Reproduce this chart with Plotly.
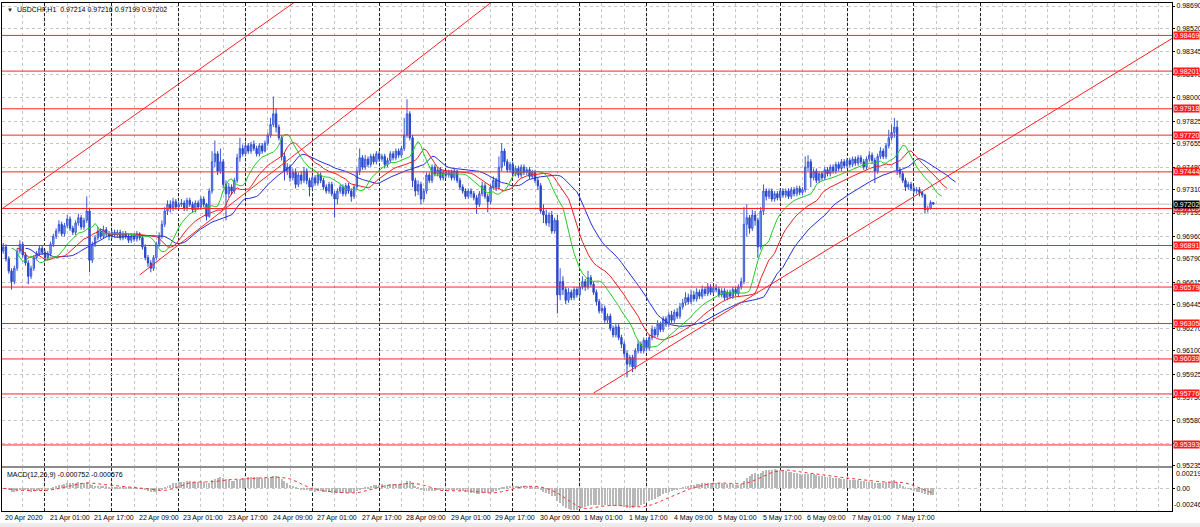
import numpy as np
import pandas as pd
import plotly.graph_objects as go

# ---------------- data (prices in points, 1 point = 0.00001) ----------------
symbol = "USDCHF"
timeframe = "H1"

opens = [
96850, 96880, 96790, 96700, 96620, 96720, 96850, 96900, 96820, 96760,
96660, 96720, 96800, 96830, 96870, 96840, 96800, 96830, 96900, 96960,
97000, 97050, 96980, 97040, 97090, 97020, 96990, 97060, 97100, 97030,
97080, 97150, 96780, 96900, 96950, 97000, 96960, 97010, 96980, 96960,
96990, 96970, 96990, 96950, 96980, 96960, 96930, 96960, 96940, 96980,
96950, 96880, 96800, 96760, 96720, 96800, 96900, 96960, 97050, 97150,
97200, 97170, 97220, 97180, 97200, 97210, 97170, 97230, 97200, 97160,
97210, 97180, 97240, 97200, 97110, 97300, 97520, 97580, 97450, 97520,
97350, 97280, 97330, 97300, 97380, 97550, 97620, 97580, 97640, 97600,
97650, 97620, 97580, 97640, 97600, 97660, 97720, 97800, 97880, 97780,
97700, 97560, 97450, 97480, 97400, 97440, 97350, 97420, 97380, 97450,
97380, 97330, 97400, 97360, 97420, 97380, 97330, 97300, 97350, 97280,
97240, 97300, 97330, 97280, 97340, 97300, 97260, 97330, 97450, 97550,
97480, 97540, 97500, 97560, 97520, 97580, 97540, 97560, 97500, 97530,
97580, 97550, 97600, 97570, 97620, 97720, 97880, 97700, 97380, 97300,
97350, 97240, 97300, 97420, 97380, 97480, 97430, 97460, 97400, 97440,
97420, 97440, 97400, 97450, 97380, 97330, 97300, 97260, 97300, 97280,
97250, 97200, 97280, 97340, 97260, 97220, 97330, 97380, 97330, 97480,
97600, 97520, 97460, 97500, 97430, 97470, 97420, 97480, 97440, 97460,
97410, 97440, 97380, 97340, 97150, 97120, 97060, 97120, 97000, 97080,
96520, 96620, 96560, 96480, 96540, 96500, 96560, 96520, 96580, 96620,
96580, 96650, 96600, 96540, 96470, 96400, 96420, 96330, 96360, 96270,
96220, 96280, 96200, 96150, 96080, 96000, 96050, 95980, 96100, 96150,
96100, 96180, 96120, 96200, 96260, 96220, 96300, 96260, 96340, 96300,
96370, 96330, 96390, 96360, 96430, 96460, 96500, 96470, 96520, 96490,
96540, 96510, 96560, 96530, 96580, 96540, 96570, 96560, 96520, 96550,
96500, 96540, 96510, 96560, 96530, 96580, 96620, 97050, 97100, 97020,
97120, 97080, 96880, 97150, 97300, 97260, 97300, 97240, 97280, 97250,
97300, 97270, 97300, 97260, 97310, 97280, 97320, 97290, 97310, 97480,
97520, 97400, 97450, 97380, 97430, 97400, 97460, 97430, 97480, 97450,
97500, 97470, 97520, 97490, 97530, 97500, 97540, 97510, 97550, 97520,
97480, 97540, 97570, 97530, 97450, 97560, 97600, 97560, 97640, 97700,
97740, 97780, 97460, 97430, 97380, 97330, 97350, 97320, 97300, 97310,
97290, 97270, 97160, 97170, 97214]

highs = [
96910, 96900, 96810, 96720, 96740, 96870, 96930, 96920, 96840, 96780,
96740, 96820, 96850, 96890, 96890, 96860, 96850, 96920, 96980, 97020,
97080, 97070, 97060, 97120, 97110, 97040, 97080, 97130, 97120, 97100,
97260, 97170, 96920, 96970, 97030, 97020, 97040, 97030, 97000, 97010,
97010, 97010, 97010, 97000, 97000, 96980, 96980, 96980, 97000, 96990,
96970, 96900, 96820, 96780, 96820, 96920, 96990, 97080, 97180, 97230,
97230, 97250, 97240, 97220, 97240, 97230, 97250, 97250, 97220, 97230,
97230, 97260, 97260, 97210, 97320, 97600, 97680, 97600, 97620, 97540,
97380, 97360, 97350, 97400, 97580, 97700, 97650, 97670, 97660, 97670,
97680, 97640, 97660, 97660, 97680, 97740, 97850, 98010, 97920, 97800,
97720, 97590, 97510, 97500, 97470, 97470, 97440, 97450, 97480, 97470,
97400, 97420, 97420, 97440, 97440, 97400, 97350, 97370, 97370, 97300,
97320, 97350, 97350, 97360, 97360, 97320, 97350, 97480, 97620, 97570,
97570, 97560, 97580, 97580, 97600, 97600, 97580, 97580, 97550, 97600,
97600, 97620, 97620, 97640, 97850, 97990, 97900, 97720, 97400, 97380,
97370, 97320, 97440, 97440, 97500, 97500, 97480, 97480, 97460, 97460,
97460, 97460, 97470, 97460, 97400, 97350, 97320, 97320, 97320, 97300,
97270, 97300, 97370, 97360, 97280, 97350, 97410, 97400, 97560, 97660,
97620, 97540, 97520, 97520, 97490, 97490, 97500, 97500, 97480, 97480,
97460, 97460, 97400, 97360, 97200, 97160, 97140, 97150, 97100, 97120,
96720, 96660, 96580, 96570, 96560, 96580, 96580, 96600, 96660, 96640,
96700, 96670, 96620, 96560, 96490, 96450, 96440, 96380, 96380, 96290,
96300, 96300, 96220, 96170, 96100, 96070, 96070, 96120, 96180, 96170,
96200, 96200, 96220, 96290, 96280, 96330, 96320, 96360, 96360, 96390,
96400, 96410, 96420, 96460, 96490, 96540, 96530, 96560, 96550, 96570,
96560, 96590, 96580, 96610, 96600, 96590, 96600, 96580, 96570, 96570,
96560, 96560, 96580, 96580, 96600, 96650, 97180, 97200, 97120, 97160,
97150, 97100, 97180, 97350, 97320, 97320, 97320, 97300, 97300, 97320,
97320, 97320, 97320, 97330, 97330, 97340, 97340, 97330, 97560, 97570,
97540, 97470, 97470, 97450, 97450, 97480, 97480, 97500, 97500, 97520,
97520, 97540, 97540, 97550, 97550, 97560, 97560, 97570, 97570, 97540,
97560, 97600, 97590, 97550, 97580, 97630, 97620, 97660, 97760, 97800,
97850, 97830, 97480, 97450, 97400, 97370, 97370, 97340, 97330, 97330,
97300, 97280, 97190, 97230, 97216]

lows = [
96830, 96770, 96680, 96560, 96600, 96700, 96830, 96800, 96740, 96600,
96640, 96700, 96780, 96810, 96820, 96780, 96780, 96810, 96880, 96940,
96980, 96960, 96960, 97020, 97000, 96970, 96970, 97040, 97010, 97010,
97060, 96690, 96760, 96880, 96930, 96940, 96940, 96960, 96930, 96940,
96950, 96950, 96930, 96930, 96940, 96910, 96910, 96920, 96920, 96930,
96860, 96780, 96730, 96690, 96700, 96780, 96880, 96940, 97030, 97120,
97140, 97150, 97160, 97160, 97180, 97150, 97150, 97180, 97140, 97140,
97160, 97160, 97180, 97080, 97100, 97280, 97480, 97420, 97430, 97320,
97080, 97250, 97270, 97280, 97360, 97520, 97560, 97560, 97580, 97580,
97600, 97560, 97560, 97580, 97590, 97640, 97700, 97780, 97740, 97680,
97530, 97380, 97420, 97370, 97380, 97320, 97330, 97350, 97360, 97350,
97260, 97310, 97340, 97340, 97360, 97310, 97280, 97280, 97260, 97100,
97200, 97280, 97260, 97260, 97280, 97220, 97240, 97310, 97420, 97460,
97460, 97480, 97480, 97500, 97500, 97520, 97520, 97470, 97480, 97510,
97530, 97530, 97550, 97550, 97600, 97700, 97680, 97330, 97260, 97270,
97200, 97220, 97280, 97360, 97360, 97410, 97410, 97380, 97380, 97400,
97400, 97380, 97380, 97360, 97310, 97280, 97240, 97240, 97250, 97230,
97130, 97180, 97260, 97240, 97140, 97200, 97310, 97300, 97310, 97450,
97490, 97440, 97440, 97410, 97410, 97400, 97400, 97420, 97420, 97390,
97390, 97360, 97310, 97130, 97060, 97040, 97030, 96980, 96980, 96380,
96480, 96520, 96450, 96460, 96480, 96480, 96500, 96500, 96560, 96550,
96560, 96580, 96520, 96440, 96380, 96380, 96310, 96310, 96250, 96200,
96200, 96180, 96120, 96050, 95900, 95980, 95940, 95960, 96080, 96080,
96080, 96100, 96100, 96180, 96200, 96200, 96240, 96240, 96280, 96280,
96310, 96310, 96340, 96340, 96410, 96440, 96450, 96450, 96470, 96470,
96490, 96490, 96510, 96510, 96520, 96520, 96540, 96500, 96500, 96480,
96480, 96490, 96490, 96510, 96510, 96560, 96600, 96960, 96980, 97000,
97040, 96800, 96860, 97120, 97230, 97240, 97220, 97220, 97230, 97230,
97250, 97250, 97240, 97240, 97260, 97260, 97270, 97270, 97290, 97450,
97330, 97380, 97360, 97360, 97380, 97380, 97410, 97410, 97430, 97430,
97450, 97450, 97470, 97470, 97480, 97480, 97490, 97490, 97500, 97460,
97460, 97520, 97510, 97360, 97430, 97540, 97540, 97540, 97620, 97680,
97700, 97420, 97400, 97360, 97300, 97310, 97300, 97280, 97280, 97260,
97250, 97130, 97140, 97160, 97199]

closes = [
96880, 96790, 96700, 96620, 96720, 96850, 96900, 96820, 96760, 96660,
96720, 96800, 96830, 96870, 96840, 96800, 96830, 96900, 96960, 97000,
97050, 96980, 97040, 97090, 97020, 96990, 97060, 97100, 97030, 97080,
97150, 96780, 96900, 96950, 97000, 96960, 97010, 96980, 96960, 96990,
96970, 96990, 96950, 96980, 96960, 96930, 96960, 96940, 96980, 96950,
96880, 96800, 96760, 96720, 96800, 96900, 96960, 97050, 97150, 97200,
97170, 97220, 97180, 97200, 97210, 97170, 97230, 97200, 97160, 97210,
97180, 97240, 97200, 97110, 97300, 97520, 97580, 97450, 97520, 97350,
97280, 97330, 97300, 97380, 97550, 97620, 97580, 97640, 97600, 97650,
97620, 97580, 97640, 97600, 97660, 97720, 97800, 97880, 97780, 97700,
97560, 97450, 97480, 97400, 97440, 97350, 97420, 97380, 97450, 97380,
97330, 97400, 97360, 97420, 97380, 97330, 97300, 97350, 97280, 97240,
97300, 97330, 97280, 97340, 97300, 97260, 97330, 97450, 97550, 97480,
97540, 97500, 97560, 97520, 97580, 97540, 97560, 97500, 97530, 97580,
97550, 97600, 97570, 97620, 97720, 97880, 97700, 97380, 97300, 97350,
97240, 97300, 97420, 97380, 97480, 97430, 97460, 97400, 97440, 97420,
97440, 97400, 97450, 97380, 97330, 97300, 97260, 97300, 97280, 97250,
97200, 97280, 97340, 97260, 97220, 97330, 97380, 97330, 97480, 97600,
97520, 97460, 97500, 97430, 97470, 97420, 97480, 97440, 97460, 97410,
97440, 97380, 97340, 97150, 97120, 97060, 97120, 97000, 97080, 96520,
96620, 96560, 96480, 96540, 96500, 96560, 96520, 96580, 96620, 96580,
96650, 96600, 96540, 96470, 96400, 96420, 96330, 96360, 96270, 96220,
96280, 96200, 96150, 96080, 96000, 96050, 95980, 96100, 96150, 96100,
96180, 96120, 96200, 96260, 96220, 96300, 96260, 96340, 96300, 96370,
96330, 96390, 96360, 96430, 96460, 96500, 96470, 96520, 96490, 96540,
96510, 96560, 96530, 96580, 96540, 96570, 96560, 96520, 96550, 96500,
96540, 96510, 96560, 96530, 96580, 96620, 97050, 97100, 97020, 97120,
97080, 96880, 97150, 97300, 97260, 97300, 97240, 97280, 97250, 97300,
97270, 97300, 97260, 97310, 97280, 97320, 97290, 97310, 97480, 97520,
97400, 97450, 97380, 97430, 97400, 97460, 97430, 97480, 97450, 97500,
97470, 97520, 97490, 97530, 97500, 97540, 97510, 97550, 97520, 97480,
97540, 97570, 97530, 97450, 97560, 97600, 97560, 97640, 97700, 97740,
97780, 97460, 97430, 97380, 97330, 97350, 97320, 97300, 97310, 97290,
97270, 97160, 97170, 97214, 97202]

time_labels = ["20 Apr 2020", "21 Apr 01:00", "21 Apr 17:00", "22 Apr 09:00",
               "23 Apr 01:00", "23 Apr 17:00", "24 Apr 09:00", "27 Apr 01:00",
               "27 Apr 17:00", "28 Apr 09:00", "29 Apr 01:00", "29 Apr 17:00",
               "30 Apr 09:00", "1 May 01:00", "1 May 17:00", "4 May 09:00",
               "5 May 01:00", "5 May 17:00", "6 May 09:00", "7 May 01:00",
               "7 May 17:00"]
label_every = 16          # bars between time labels
day_start_bar = 15        # bar index of first 00:00 (day separator)
bars_per_day = 24

price_tick_labels = ["0.98690", "0.98520", "0.98345", "0.98175", "0.98000",
                     "0.97825", "0.97655", "0.97480", "0.97310", "0.97135",
                     "0.96960", "0.96790", "0.96615", "0.96445", "0.96270",
                     "0.96100", "0.95925", "0.95750", "0.95580", "0.95405",
                     "0.95235"]

levels = [0.98469, 0.98201, 0.97918, 0.97720, 0.97444, 0.97169,
          0.96891, 0.96579, 0.96305, 0.96039, 0.95776, 0.95393]

# trend lines: anchor (bar, price) pairs
trend1_bars = [0, 104]
trend1_prices = [0.97173, 0.98710]
trend2_bars = [49, 175]
trend2_prices = [0.96670, 0.98713]
trend3_bars = [212, 420]
trend3_prices = [0.95783, 0.98450]

macd_label = "MACD(12,26,9) -0.000752 -0.000576"
macd_top_label = "0.002199"
macd_bottom_label = "-0.00246"
macd_range = [-0.00246, 0.002199]

visible_bars = 420  # chart width in bars

# ---------------- derived ----------------
assert len(opens) == len(highs) == len(lows) == len(closes)
O = np.array(opens) / 1e5
H = np.array(highs) / 1e5
L = np.array(lows) / 1e5
C = np.array(closes) / 1e5
n = len(C)
bars = np.arange(n)

def smma(vals, period):
    out = np.empty(len(vals))
    out[0] = vals[0]
    for i in range(1, len(vals)):
        out[i] = (out[i - 1] * (period - 1) + vals[i]) / period
    return out

median = (H + L) / 2
jaw = smma(median, 13)
teeth = smma(median, 8)
lips = smma(median, 5)

cs = pd.Series(C)
macd = cs.ewm(span=12, adjust=False).mean() - cs.ewm(span=26, adjust=False).mean()
signal = macd.rolling(9, min_periods=1).mean()

def extend(bx, py, x_from, x_to):
    slope = (py[1] - py[0]) / (bx[1] - bx[0])
    return [x_from, x_to], [py[0] + slope * (x_from - bx[0]), py[0] + slope * (x_to - bx[0])]

FONT = "Tahoma, 'Liberation Sans', Arial, sans-serif"
FS = 7

fig = go.Figure()

fig.add_trace(go.Candlestick(
    x=bars, open=O, high=H, low=L, close=C,
    increasing=dict(line=dict(color="#3a5ad8", width=1), fillcolor="#a0b4f0"),
    decreasing=dict(line=dict(color="#2a48c8", width=1), fillcolor="#2a48c8"),
    whiskerwidth=0, showlegend=False, hoverinfo="skip",
    xaxis="x", yaxis="y"))

fig.add_trace(go.Scatter(x=bars + 8, y=jaw, mode="lines", line=dict(color="#1f2fd8", width=1),
                         showlegend=False, hoverinfo="skip", xaxis="x", yaxis="y"))
fig.add_trace(go.Scatter(x=bars + 5, y=teeth, mode="lines", line=dict(color="#e82020", width=1),
                         showlegend=False, hoverinfo="skip", xaxis="x", yaxis="y"))
fig.add_trace(go.Scatter(x=bars + 3, y=lips, mode="lines", line=dict(color="#22cc22", width=1),
                         showlegend=False, hoverinfo="skip", xaxis="x", yaxis="y"))

for bx, py, x0 in [(trend1_bars, trend1_prices, -2),
                   (trend2_bars, trend2_prices, trend2_bars[0]),
                   (trend3_bars, trend3_prices, trend3_bars[0])]:
    tx, ty = extend(bx, py, x0, visible_bars + 10)
    fig.add_trace(go.Scatter(x=tx, y=ty, mode="lines", line=dict(color="#ff2020", width=1),
                             showlegend=False, hoverinfo="skip", xaxis="x", yaxis="y"))

fig.add_trace(go.Bar(x=bars, y=macd, marker=dict(color="#b8b8b8", line=dict(width=0)),
                     width=0.35, showlegend=False, hoverinfo="skip", xaxis="x2", yaxis="y2"))
fig.add_trace(go.Scatter(x=bars, y=signal, mode="lines", line=dict(color="#ff3030", width=1, dash="dot"),
                         showlegend=False, hoverinfo="skip", xaxis="x2", yaxis="y2"))

sep_bars = list(range(day_start_bar, visible_bars - 50, bars_per_day))
grid_bars = list(range(day_start_bar % 8, visible_bars + 1, 8))
tick_bars = [i * label_every for i in range(len(time_labels))]

price_min = float(price_tick_labels[-1])
price_max = float(price_tick_labels[0])
span = price_max - price_min

xcommon = dict(range=[-0.43, 419.7], tickmode="array", tickvals=sep_bars, showticklabels=False,
               ticks="", showgrid=True, gridcolor="#202020", griddash="3px,2px", gridwidth=1,
               minor=dict(tickmode="array", tickvals=grid_bars, showgrid=True, gridcolor="#c4c4c4",
                          griddash="dot", gridwidth=1, ticks=""),
               showline=True, linecolor="#000000", linewidth=1, mirror=True, zeroline=False,
               automargin=False, rangeslider=dict(visible=False), fixedrange=True)

top_main = 1.0
main_bottom = 0.0886
macd_top = 0.0846

fig.update_layout(
    template="none",
    width=1200, height=527,
    margin=dict(l=2, r=28, t=3, b=16, autoexpand=False),
    paper_bgcolor="#ffffff", plot_bgcolor="#ffffff",
    font=dict(family=FONT, size=FS, color="#000000"),
    showlegend=False, bargap=0,
    xaxis=dict(domain=[0, 1], anchor="y", **xcommon),
    xaxis2=dict(domain=[0, 1], anchor="y2", matches="x", **xcommon),
    yaxis=dict(domain=[main_bottom, top_main], anchor="x", side="right", automargin=False,
               range=[price_min, price_max + span * 3 / 460],
               tickmode="array", tickvals=[float(t) for t in price_tick_labels], ticktext=price_tick_labels,
               ticks="outside", ticklen=2, tickcolor="#000000", ticklabelstandoff=0,
               tickfont=dict(size=FS, family=FONT, color="#000000"),
               showgrid=True, gridcolor="#c4c4c4", griddash="dot", gridwidth=1,
               showline=True, linecolor="#000000", mirror=True, zeroline=False, fixedrange=True),
    yaxis2=dict(domain=[0, macd_top], anchor="x2", side="right", range=macd_range, automargin=False,
                tickmode="array", tickvals=[0], ticktext=["0.00"],
                ticks="outside", ticklen=2, tickcolor="#000000", ticklabelstandoff=0,
                tickfont=dict(size=FS, family=FONT, color="#000000"),
                showgrid=True, gridcolor="#c4c4c4", griddash="dot",
                showline=True, linecolor="#000000", mirror=True, zeroline=False, fixedrange=True),
)

shapes = []
# gray separator between panes
shapes.append(dict(type="rect", xref="paper", yref="paper", x0=0, x1=1, y0=macd_top, y1=main_bottom,
                   fillcolor="#8c8c8c", line=dict(width=0), layer="above"))
# bottom tab strip
shapes.append(dict(type="rect", xref="paper", yref="paper", x0=-0.01, x1=1.03, y0=-16 / 508, y1=-12 / 508,
                   fillcolor="#ececec", line=dict(width=0)))
# bid line
shapes.append(dict(type="line", xref="x domain", yref="y", x0=0, x1=1, y0=C[-1], y1=C[-1],
                   line=dict(color="#c0c0c0", width=1), layer="below"))
for lv in levels:
    shapes.append(dict(type="line", xref="x domain", yref="y", x0=0, x1=1, y0=lv, y1=lv,
                       line=dict(color="#ff2424", width=1), layer="above"))
fig.update_layout(shapes=shapes)

ann = []
ann.append(dict(text="▼", xref="paper", yref="paper", x=0, y=1, xanchor="left", yanchor="top",
                xshift=3, yshift=-2, showarrow=False, font=dict(size=6, color="#202020")))
title = f"{symbol},{timeframe}  {O[-1]:.5f} {H[-1]:.5f} {L[-1]:.5f} {C[-1]:.5f}"
ann.append(dict(text=title, xref="paper", yref="paper", x=0, y=1, xanchor="left", yanchor="top",
                xshift=13, yshift=-1, showarrow=False, font=dict(size=FS, color="#000000")))
ann.append(dict(text=macd_label, xref="paper", yref="paper", x=0, y=macd_top, xanchor="left", yanchor="top",
                xshift=3, yshift=-1, showarrow=False, font=dict(size=FS, color="#000000")))
ann.append(dict(text=macd_top_label, xref="paper", yref="y2 domain", x=1, y=1, xanchor="left", yanchor="top",
                xshift=2, yshift=0, showarrow=False, font=dict(size=FS, color="#000000")))
ann.append(dict(text=macd_bottom_label, xref="paper", yref="y2 domain", x=1, y=0, xanchor="left",
                yanchor="bottom", xshift=0, yshift=1, showarrow=False, font=dict(size=FS, color="#000000")))
for tb, tl in zip(tick_bars, time_labels):
    ann.append(dict(text=tl, xref="x2", yref="paper", x=tb, y=0, xanchor="left", yanchor="top",
                    yshift=-1, showarrow=False, font=dict(size=FS, color="#000000")))
for lv in levels:
    ann.append(dict(text=f"{lv:.5f}", xref="paper", yref="y", x=1, y=lv, xanchor="left", yanchor="middle",
                    xshift=1, showarrow=False, bgcolor="#ff1a1a", borderpad=0,
                    font=dict(size=FS, color="#ffffff")))
ann.append(dict(text=f"{C[-1]:.5f}", xref="paper", yref="y", x=1, y=C[-1], xanchor="left", yanchor="middle",
                xshift=1, showarrow=False, bgcolor="#000000", borderpad=0,
                font=dict(size=FS, color="#ffffff")))
ann.append(dict(text="▼", xref="x", yref="paper", x=n, y=1, xanchor="center", yanchor="top",
                yshift=1, showarrow=False, font=dict(size=5, color="#a0a0a0")))
fig.update_layout(annotations=ann)

fig.write_html("out.html", config={"displayModeBar": False},
               post_script="document.body.style.margin='0';document.body.style.padding='0';"
                           "document.body.style.overflow='hidden';")
